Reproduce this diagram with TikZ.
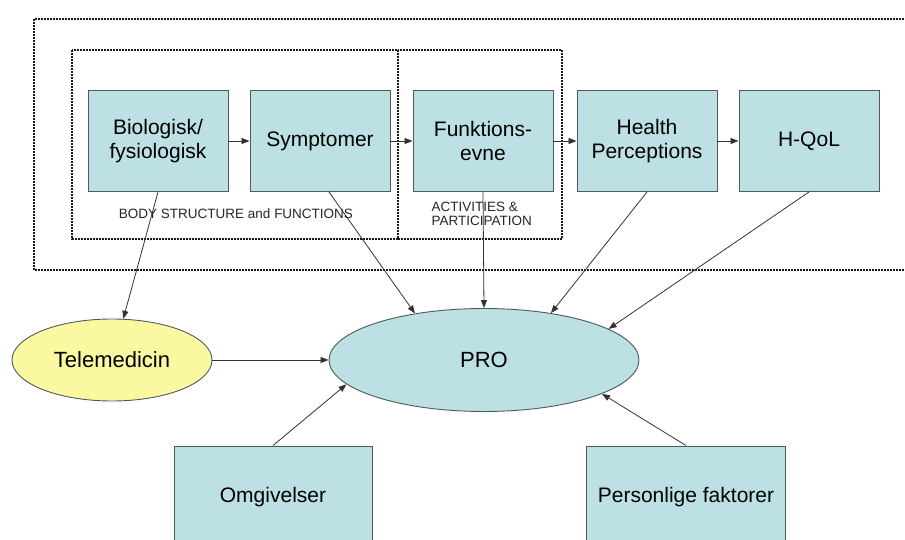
\documentclass[tikz,border=0pt]{standalone}
\usepackage{fontspec}
\setmainfont{Liberation Sans}
\usetikzlibrary{shapes.geometric,arrows.meta}

\definecolor{boxfill}{RGB}{188,224,227}
\definecolor{boxline}{RGB}{77,90,94}
\definecolor{telefill}{RGB}{250,248,160}

\tikzset{
    box/.style={draw=boxline, fill=boxfill, line width=0.9pt, minimum width=140, minimum height=101,
                align=center, font=\fontsize{21}{24}\selectfont},
    oval/.style={ellipse, draw=boxline, line width=0.9pt, align=center, font=\fontsize{22}{24}\selectfont},
    frame/.style={line width=2pt, dash pattern=on 1.6pt off 1.4pt, black!90},
    link/.style={black!80, line width=0.8pt, -{Triangle[length=8pt,width=6pt]}},
    small/.style={font=\fontsize{13.5}{14}\selectfont, text=black!85}
}

\begin{document}
\begin{tikzpicture}[x=1pt, y=-1pt]
    \clip (0,0) rectangle (905,540);

    % Rammer (prikket)
    \draw[frame] (34,19) rectangle (920,270);
    \draw[frame] (72,50) rectangle (398,239);
    \draw[frame] (398,50) rectangle (562,239);

    % Boksene i toppen
    \node[box] (bio) at (158,141) {Biologisk/\\fysiologisk};
    \node[box] (sym) at (320,141) {Symptomer};
    \node[box] (fun) at (483,141) {Funktions-\\evne};
    \node[box] (hp)  at (647,141) {Health\\Perceptions};
    \node[box] (hq)  at (809,141) {H-QoL};

    % Tekst i rammerne
    \node[small] (bsf) at (236,214) {BODY STRUCTURE and FUNCTIONS};
    \node[small, anchor=west, align=left] (act) at (428,214) {ACTIVITIES \&\\PARTICIPATION};

    % Ellipser
    \node[oval, fill=telefill, minimum width=200, minimum height=82] (tele) at (112,360) {Telemedicin};
    \node[oval, fill=boxfill, minimum width=310, minimum height=103] (pro) at (484,360) {PRO};

    % Boksene i bunden
    \node[box, minimum width=198, minimum height=102] (omg) at (273,497) {Omgivelser};
    \node[box, minimum width=199, minimum height=102] (pf)  at (686,497) {Personlige faktorer};

    % Pile mellem boksene
    \foreach \a/\b in {bio/sym, sym/fun, fun/hp, hp/hq}
        \draw[link] (\a) -- (\b);

    % Pile til PRO
    \draw[link] (bio.south) -- (tele);
    \draw[link] (sym.-80) -- (pro.146);
    \draw[link] (fun.south) -- (pro.north);
    \draw[link] (hp.south) -- (pro.35);
    \draw[link] (hq.south) -- (pro.14);
    \draw[link] (tele.east) -- (pro.west);
    \draw[link] (omg.north) -- (pro.190);
    \draw[link] (pf.north) -- (pro.-16);
\end{tikzpicture}
\end{document}
